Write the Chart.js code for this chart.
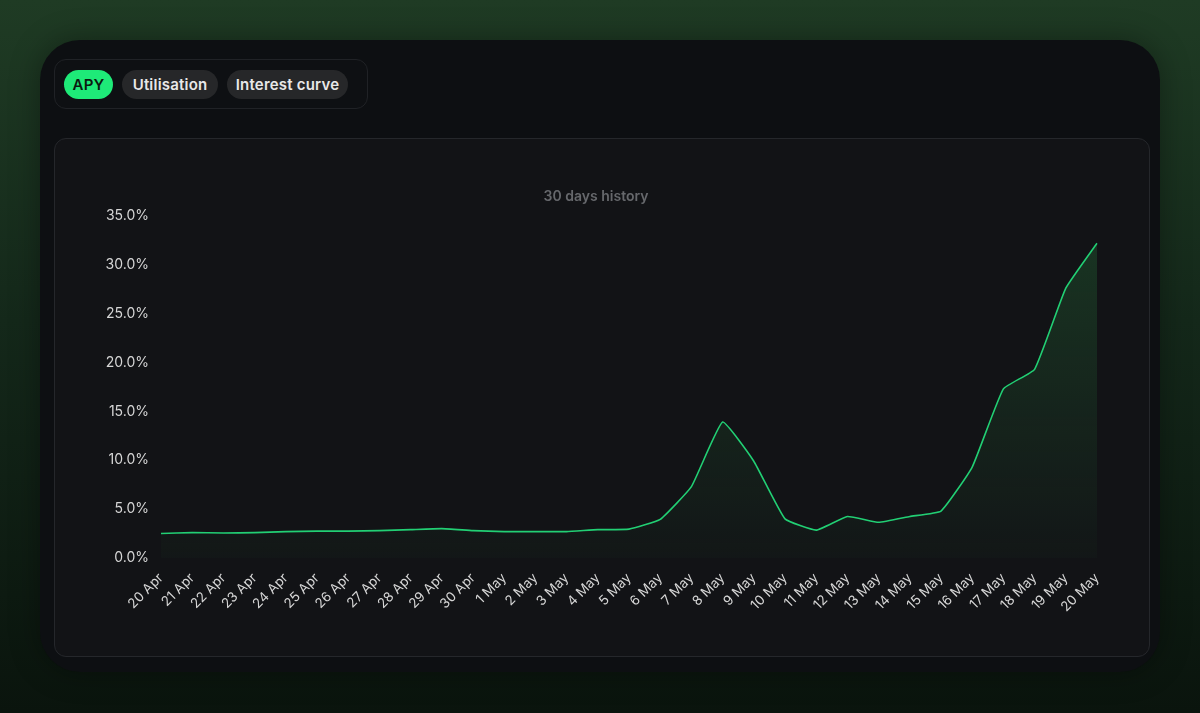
<!DOCTYPE html>
<html>
<head>
<meta charset="utf-8">
<script src="https://cdn.jsdelivr.net/npm/chart.js@4"></script>
<style>
  html, body { margin:0; padding:0; width:1200px; height:713px; overflow:hidden; }
  body { background: linear-gradient(180deg, #1f3b24 0%, #14281a 45%, #0a140d 100%); font-family: Inter, "Noto Sans", sans-serif; }
  .card { position:absolute; left:40px; top:40px; width:1120px; height:632px; background:#0d0f12; border-radius:40px; box-shadow:0 0 30px rgba(0,0,0,0.35); }
  .tabs { position:absolute; left:54px; top:59px; width:312px; height:48px; border:1px solid #202226; border-radius:12px; background:#0e1013; }
  .tab { position:absolute; top:10px; height:29px; line-height:29px; border-radius:15px; background:#262729; color:#e8e8e8; font-weight:600; font-size:15px; text-align:center; letter-spacing:0.2px; }
  .tab.active { background:#1eea78; color:#0b1a10; }
  .panel { position:absolute; left:54px; top:138px; width:1094px; height:517px; background:#121316; border:1px solid #25272b; border-radius:12px; }
  canvas { position:absolute; left:55px; top:139px; }
</style>
</head>
<body>
<div class="card"></div>
<div class="tabs">
  <div class="tab active" style="left:9px;width:49px;">APY</div>
  <div class="tab" style="left:67px;width:96px;">Utilisation</div>
  <div class="tab" style="left:172px;width:121px;">Interest curve</div>
</div>
<div class="panel"></div>
<canvas id="c" width="1094" height="517" style="width:1094px;height:517px;"></canvas>
<script>
const categories = ["20 Apr","21 Apr","22 Apr","23 Apr","24 Apr","25 Apr","26 Apr","27 Apr","28 Apr","29 Apr","30 Apr","1 May","2 May","3 May","4 May","5 May","6 May","7 May","8 May","9 May","10 May","11 May","12 May","13 May","14 May","15 May","16 May","17 May","18 May","19 May","20 May"];
const apyValues = [2.5,2.6,2.55,2.6,2.7,2.75,2.75,2.8,2.9,3.0,2.8,2.7,2.7,2.7,2.9,2.95,3.95,7.3,13.9,9.9,4.0,2.85,4.25,3.65,4.25,4.8,9.3,17.3,19.3,27.6,32.2];
const yTicks = [0,5,10,15,20,25,30,35];
const titleText = "30 days history";

const ctx = document.getElementById('c').getContext('2d');
new Chart(ctx, {
  type: 'line',
  data: {
    labels: categories,
    datasets: [{
      label: 'APY',
      data: apyValues,
      borderColor: '#22cf74',
      borderWidth: 1.6,
      pointRadius: 0,
      tension: 0.12,
      fill: 'origin',
      backgroundColor: (c) => {
        const a = c.chart.chartArea;
        if (!a) return 'rgba(34,207,116,0.08)';
        const g = c.chart.ctx.createLinearGradient(0, a.top, 0, a.bottom);
        g.addColorStop(0, 'rgba(40,120,60,0.35)');
        g.addColorStop(1, 'rgba(40,120,60,0.04)');
        return g;
      }
    }]
  },
  options: {
    responsive: false,
    animation: false,
    devicePixelRatio: 1,
    layout: { padding: { left: 40, right: 52, top: 0, bottom: 0 } },
    plugins: {
      legend: { display: false },
      tooltip: { enabled: false },
      title: {
        display: true,
        text: titleText,
        color: '#66686c',
        font: { family: 'Inter', size: 14, weight: '600' },
        padding: { top: 49, bottom: 11 }
      }
    },
    scales: {
      x: {
        grid: { display: false, drawTicks: false },
        border: { display: false },
        ticks: {
          color: '#d6d6d6',
          font: { family: 'Inter', size: 13.5 },
          maxRotation: 45, minRotation: 45,
          autoSkip: false,
          padding: 12
        },
        afterFit: (s) => { s.height = 98; }
      },
      y: {
        min: 0, max: 35,
        grid: { display: false, drawTicks: false },
        border: { display: false },
        afterBuildTicks: (s) => { s.ticks = yTicks.map(v => ({ value: v })); },
        ticks: {
          color: '#d6d6d6',
          font: { family: 'Inter', size: 14 },
          padding: 12,
          callback: (v) => Number(v).toFixed(1) + '%'
        },
        afterFit: (s) => { s.width = 66; }
      }
    }
  }
});
</script>
</body>
</html>
